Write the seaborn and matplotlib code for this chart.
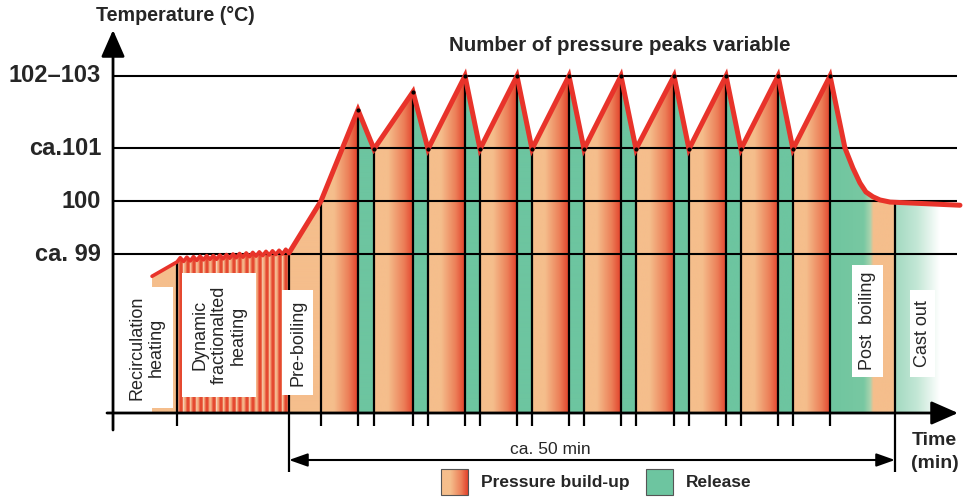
import numpy as np
import matplotlib
matplotlib.use('Agg')
import matplotlib.pyplot as plt
import seaborn as sns
from matplotlib.colors import LinearSegmentedColormap
from matplotlib.patches import Polygon, Rectangle

# Wort boiling temperature profile: pressure build-up / release cycles

sns.set_theme(style='white')
plt.rcParams['font.family'] = ['Liberation Sans', 'DejaVu Sans']

# ---- data (time in min from start of pre-boiling, temperature in °C) ----
temp_levels = [99.0, 100.0, 101.0, 102.36]
temp_labels = ['ca. 99', '100', 'ca.101', '102–103']
base_temp = 96.0
axis_t = -14.52

recirc_t = [-11.30, -9.24]
recirc_T = [98.58, 98.85]

dyn_low_t = [-9.24, -8.70, -8.15, -7.61, -7.06, -6.52, -5.98, -5.43, -4.89,
             -4.35, -3.80, -3.26, -2.72, -2.17, -1.63, -1.09, -0.54, 0.0]
dyn_low_T = [98.85, 98.86, 98.87, 98.88, 98.89, 98.90, 98.90, 98.91, 98.92,
             98.93, 98.94, 98.95, 98.96, 98.97, 98.98, 98.99, 99.00, 99.02]
dyn_top_t = [-8.97, -8.43, -7.88, -7.34, -6.79, -6.25, -5.71, -5.16, -4.62,
             -4.08, -3.53, -2.99, -2.45, -1.90, -1.36, -0.82, -0.27]
dyn_top_T = [98.93, 98.94, 98.95, 98.96, 98.97, 98.97, 98.98, 98.99, 99.00,
             99.01, 99.02, 99.03, 99.04, 99.05, 99.06, 99.07, 99.09]

preboil_t = [2.64]
preboil_T = [100.0]

peak_t = [5.69, 10.23, 14.52, 18.81, 23.10, 27.39, 31.77, 36.06, 40.35, 44.64]
peak_T = [101.72, 102.06, 102.36, 102.36, 102.36, 102.36, 102.36, 102.36, 102.36, 102.36]
trough_t = [7.01, 11.47, 15.76, 20.05, 24.34, 28.63, 33.00, 37.29, 41.58]
trough_T = [100.98, 100.98, 100.98, 100.98, 100.98, 100.98, 100.98, 100.98, 100.98]

post_t = [45.87, 46.53, 47.11, 47.60, 48.18, 48.76, 49.59, 55.36]
post_T = [101.0, 100.62, 100.34, 100.17, 100.08, 100.02, 99.98, 99.92]

castout_t = 50.0
castout_end_t = 53.7

# ---- build the full curve ----
dyn_t, dyn_T = [], []
for i in range(len(dyn_top_t)):
    dyn_t += [dyn_low_t[i], dyn_top_t[i]]
    dyn_T += [dyn_low_T[i], dyn_top_T[i]]
dyn_t.append(dyn_low_t[-1])
dyn_T.append(dyn_low_T[-1])

main_t, main_T = [], []
for i in range(len(trough_t)):
    main_t += [peak_t[i], trough_t[i]]
    main_T += [peak_T[i], trough_T[i]]
main_t.append(peak_t[-1])
main_T.append(peak_T[-1])

curve_t = np.array(recirc_t + dyn_t[1:] + preboil_t + main_t + post_t)
curve_T = np.array(recirc_T + dyn_T[1:] + preboil_T + main_T + post_T)
n_early = len(recirc_t) + len(dyn_t) - 1


def curve_at(x):
    return np.interp(x, curve_t, curve_T)


# pixel layout helpers (figure is 966 x 497 px)
def X(px):
    return (px - 289) / 12.12


def Y(py):
    return base_temp + (413 - py) / 53


peach = '#F5BE8C'
red = '#E2412B'
green = '#6DC5A0'
line_red = '#E8332A'

build_cmap = LinearSegmentedColormap.from_list(
    'build', [(0, peach), (0.35, peach), (0.75, '#EC7F58'), (1, red)])
stripe_cmap = LinearSegmentedColormap.from_list(
    'stripe', [(0, peach), (0.2, '#F3A47C'), (0.45, '#E5472F'), (0.7, '#E5472F'), (0.9, '#F2A078'), (1, peach)])
post_cmap = LinearSegmentedColormap.from_list(
    'post', [(0, '#6FC59F'), (0.52, '#78C8A2'), (0.62, '#A9D3AE'), (0.67, peach), (1, peach)])
cast_cmap = LinearSegmentedColormap.from_list(
    'cast', [(0, '#A2D9C0'), (0.5, '#C4E7D6'), (1, '#FFFFFF')])
flat_peach = LinearSegmentedColormap.from_list('p', [peach, peach])
flat_green = LinearSegmentedColormap.from_list('g', [green, green])

fig = plt.figure(figsize=(9.66, 4.97), dpi=100)
ax = fig.add_axes([0, 0, 1, 1])


def gradient_fill(t0, t1, cmap, z=1):
    inside = (curve_t > t0) & (curve_t < t1)
    xs = [t0, t0] + list(curve_t[inside]) + [t1, t1]
    ys = [base_temp, curve_at(t0)] + list(curve_T[inside]) + [curve_at(t1), base_temp]
    poly = Polygon(np.column_stack([xs, ys]), closed=True, facecolor='none', edgecolor='none')
    ax.add_patch(poly)
    im = ax.imshow(np.linspace(0, 1, 256)[None, :], extent=[t0, t1, base_temp, max(ys) + 0.1],
                   cmap=cmap, aspect='auto', zorder=z, interpolation='bilinear')
    im.set_clip_path(poly)


# fills under the curve
gradient_fill(recirc_t[0], recirc_t[1], flat_peach)
for i in range(len(dyn_low_t) - 1):
    gradient_fill(dyn_low_t[i], dyn_low_t[i + 1], stripe_cmap)
gradient_fill(0.0, preboil_t[0], flat_peach)
build_start = preboil_t + trough_t
for a, b in zip(build_start, peak_t):
    gradient_fill(a, b, build_cmap)
for a, b in zip(peak_t[:-1], trough_t):
    gradient_fill(a, b, flat_green)
gradient_fill(peak_t[-1], castout_t, post_cmap)
gradient_fill(castout_t, castout_end_t, cast_cmap)

# horizontal reference lines
ax.hlines(temp_levels, axis_t, X(957), color='black', lw=1.5, zorder=2)
for lev, lab in zip(temp_levels, temp_labels):
    ax.text(X(101), lev, lab, ha='right', va='center', fontsize=17, fontweight='bold')

# vertical phase lines and ticks
phase_t = [recirc_t[1], 0.0] + preboil_t + peak_t + trough_t + [castout_t]
ax.vlines(phase_t, base_temp, curve_at(phase_t), color='black', lw=1.6, zorder=2)
tick_t = [recirc_t[1]] + preboil_t + peak_t + trough_t
ax.vlines(tick_t, Y(426), base_temp, color='black', lw=1.6, zorder=2)
ax.vlines([0.0, castout_t], Y(472), base_temp, color='black', lw=1.6, zorder=2)

# axes arrows
arrow_kw = dict(arrowstyle='-|>,head_length=0.66,head_width=0.29', color='black', lw=2,
                mutation_scale=25, shrinkA=0, shrinkB=0)
ax.annotate('', xy=(axis_t, Y(30)), xytext=(axis_t, Y(430)), arrowprops=arrow_kw, zorder=3)
ax.annotate('', xy=(X(958), base_temp), xytext=(X(107), base_temp), arrowprops=arrow_kw, zorder=3)

# phase label boxes
boxes = [
    (120, 173, 287, 408, 'Recirculation\nheating'),
    (182, 256, 273, 397, 'Dynamic\nfractionalted\nheating'),
    (282, 313, 290, 395, 'Pre-boiling'),
    (852, 883, 265, 377, 'Post  boiling'),
    (910, 935, 290, 377, 'Cast out'),
]
for x0, x1, y0, y1, lab in boxes:
    ax.add_patch(Rectangle((X(x0), Y(y1)), X(x1) - X(x0), Y(y0) - Y(y1),
                           facecolor='white', edgecolor='none', zorder=3))
    ax.text((X(x0) + X(x1)) / 2, (Y(y0) + Y(y1)) / 2, lab, rotation=90, ha='center',
            va='center', fontsize=13, linespacing=1.15, zorder=4)

# temperature curve: thinner during the heating phases, thick afterwards
sns.lineplot(x=curve_t[:n_early], y=curve_T[:n_early], sort=False, estimator=None,
             color=line_red, lw=2.6, ax=ax, zorder=5)
sns.lineplot(x=curve_t[n_early - 1:], y=curve_T[n_early - 1:], sort=False, estimator=None,
             color=line_red, lw=3.6, ax=ax, zorder=5, solid_joinstyle='miter')
ax.scatter(peak_t + trough_t, peak_T + trough_T, s=4, color='black', zorder=6)

# titles
ax.text(X(175), Y(15), 'Temperature (°C)', ha='center', va='center', fontsize=14.2, fontweight='bold')
ax.text(X(620), Y(45), 'Number of pressure peaks variable', ha='center', va='center',
        fontsize=14.8, fontweight='bold')
ax.text(X(934), Y(440), 'Time', ha='center', va='center', fontsize=14, fontweight='bold')
ax.text(X(935), Y(463), '(min)', ha='center', va='center', fontsize=14, fontweight='bold')

# duration arrow
ax.annotate('', xy=(castout_t, Y(460)), xytext=(0.0, Y(460)),
            arrowprops=dict(arrowstyle='<|-|>,head_length=0.45,head_width=0.16', color='black',
                            lw=1.5, mutation_scale=25, shrinkA=0, shrinkB=0))
ax.text(X(550), Y(449), 'ca. 50 min', ha='center', va='center', fontsize=12.5)

# legend
ax.imshow(np.linspace(0, 1, 256)[None, :], extent=[X(441), X(468), Y(495), Y(469)],
          cmap=build_cmap, aspect='auto', zorder=3)
ax.add_patch(Rectangle((X(441), Y(495)), X(468) - X(441), Y(469) - Y(495),
                       facecolor='none', edgecolor='#555555', lw=0.8, zorder=4))
ax.add_patch(Rectangle((X(646), Y(495)), X(673) - X(646), Y(469) - Y(495),
                       facecolor=green, edgecolor='#555555', lw=0.8, zorder=4))
ax.text(X(481), Y(482), 'Pressure build-up', ha='left', va='center', fontsize=12.5, fontweight='bold')
ax.text(X(686), Y(482), 'Release', ha='left', va='center', fontsize=12.5, fontweight='bold')

ax.set_xlim(X(0), X(966))
ax.set_ylim(Y(497), Y(0))
ax.axis('off')

fig.savefig('out.png', dpi=100)
